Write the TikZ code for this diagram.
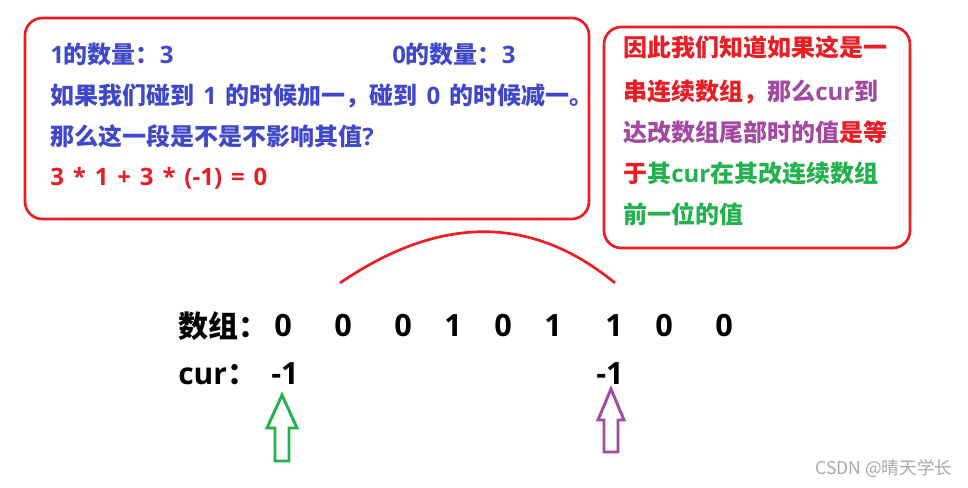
\documentclass[tikz,border=0pt]{standalone}
\usepackage{fontspec}
\setmainfont{Noto Sans CJK SC}
\newfontfamily\lat{Open Sans}
\newcommand{\wsp}{\hspace{0.37em}}
\definecolor{tblue}{HTML}{3F48CC}
\definecolor{tred}{HTML}{ED1C24}
\definecolor{tpurple}{HTML}{A349A4}
\definecolor{tgreen}{HTML}{22B14C}
\definecolor{wgray}{HTML}{A8A8A8}
\begin{document}
\begin{tikzpicture}[x=0.75pt,y=-0.75pt,
  box/.style={draw=tred, line width=2pt, rounded corners=13pt, inner sep=0pt},
  txt/.style={anchor=base west, inner sep=0pt, font=\fontsize{18}{20}\selectfont\bfseries},
  arr/.style={anchor=base west, inner sep=0pt, font=\fontsize{22.5}{26}\selectfont\bfseries},
  dig/.style={anchor=base, inner sep=0pt, font=\fontsize{23}{26}\selectfont\bfseries\lat},
  hollow/.style={line width=2.2pt, line join=miter, fill=white}]
\useasboundingbox (0,0) rectangle (968,488);
\fill[white] (0,0) rectangle (968,488);
% boxes
\node[box, minimum width=423pt, minimum height=150.75pt] (box1) at (307,118.5) {};
\node[box, minimum width=229.5pt, minimum height=165.75pt] (box2) at (757,137.5) {};
% box 1 text
\node[txt, text=tblue] (l1a) at (50,64) {{\lat 1}的数量：{\lat 3}};
\node[txt, text=tblue] (l1b) at (392,64) {{\lat 0}的数量：{\lat 3}};
\node[txt, text=tblue] (l2) at (50,105) {如果我们碰到\wsp{\lat 1}\wsp 的时候加一，碰到\wsp{\lat 0}\wsp 的时候减一。};
\node[txt, text=tblue] (l3) at (50,146) {那么这一段是不是不影响其值{\lat ?}};
\node[txt, text=tred, font=\fontsize{18}{20}\selectfont\bfseries\lat] (l4) at (50,186) {3\wsp*\wsp1\wsp+\wsp3\wsp*\wsp(-1)\wsp=\wsp0};
% box 2 text
\node[txt, text=tred] (r1) at (623,57) {因此我们知道如果这是一};
\node[txt] (r2) at (623,101) {\textcolor{tred}{串连续数组，}\textcolor{tpurple}{那么{\lat cur}到}};
\node[txt] (r3) at (623,142) {\textcolor{tpurple}{达改数组尾部时的值}\textcolor{tred}{是等}};
\node[txt] (r4) at (623,183) {\textcolor{tred}{于}\textcolor{tgreen}{其{\lat cur}在其改连续数组}};
\node[txt, text=tgreen] (r5) at (623,224) {前一位的值};
% array
\node[arr] (lab1) at (178,338) {数组：};
\node[dig] (d1) at (283,337) {0};
\node[dig] (d2) at (343,337) {0};
\node[dig] (d3) at (403,337) {0};
\node[dig] (d4) at (453,337) {1};
\node[dig] (d5) at (503,337) {0};
\node[dig] (d6) at (553,337) {1};
\node[dig] (d7) at (614,337) {1};
\node[dig] (d8) at (664,337) {0};
\node[dig] (d9) at (724,337) {0};
\node[arr] (lab2) at (178,384) {{\lat cur}：};
\node[dig] (c1) at (285,384) {-1};
\node[dig] (c2) at (610,384) {-1};
% arc
\coordinate (arcL) at (340,283);
\coordinate (arcR) at (615,283);
\draw[tred, line width=2pt] (arcL) .. controls (425,225) and (520,205) .. (arcR);
% hollow arrows
\draw[hollow, draw=tgreen] (282,395) -- (297,428) -- (289,428) -- (289,461) -- (275,461) -- (275,428) -- (267,428) -- cycle;
\draw[hollow, draw=tpurple] (611,389) -- (624,420) -- (618,420) -- (618,452) -- (604,452) -- (604,420) -- (598,420) -- cycle;
% watermark
\node[anchor=west, inner sep=0pt, text=wgray, font=\fontsize{13.2}{15}\selectfont] (wm) at (815,469) {CSDN @晴天学长};
\end{tikzpicture}
\end{document}
